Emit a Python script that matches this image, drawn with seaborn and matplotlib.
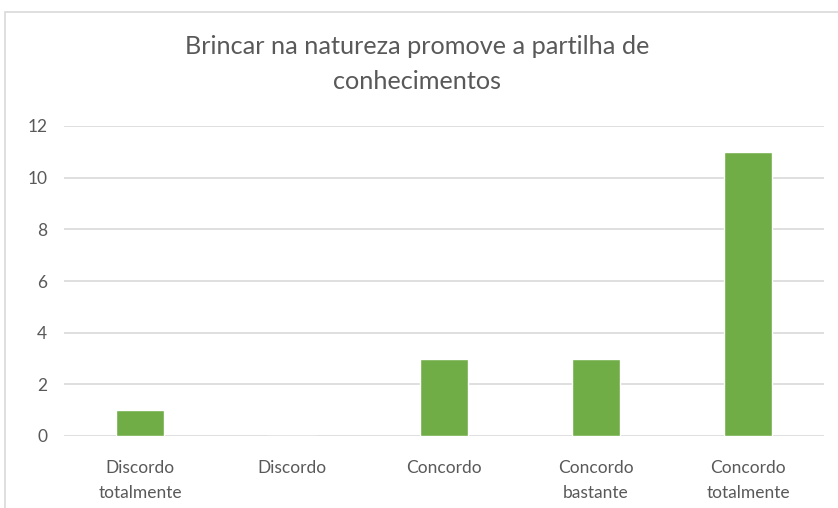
import matplotlib
matplotlib.use("Agg")
import matplotlib.pyplot as plt
import seaborn as sns
import pandas as pd
from matplotlib.patches import Rectangle

categories = ["Discordo\ntotalmente", "Discordo", "Concordo", "Concordo\nbastante", "Concordo\ntotalmente"]
values = [1, 0, 3, 3, 11]
yticks = [0, 2, 4, 6, 8, 10, 12]
title = "Brincar na natureza promove a partilha de\nconhecimentos"

sns.set_theme(style="white")
plt.rcParams['font.family'] = ['Lato', 'DejaVu Sans']

df = pd.DataFrame({"cat": categories, "val": values})

fig = plt.figure(figsize=(8.38, 5.08), dpi=100)
ax = fig.add_axes([64/838, 1 - 436/508, (824-64)/838, (436-126)/508])

sns.barplot(data=df, x="cat", y="val", color="#70AD47", width=0.31,
            saturation=1, ax=ax, zorder=3)

ax.set_ylim(0, 12)
ax.set_yticks(yticks)
ax.set_yticklabels([str(t) for t in yticks])
ax.yaxis.grid(True, color="#d9d9d9", linewidth=1.2, zorder=0)
ax.set_axisbelow(True)
for s in ax.spines.values():
    s.set_visible(False)
ax.set_xlabel("")
ax.set_ylabel("")
ax.tick_params(axis="both", length=0, colors="#595959", labelsize=12.5)
ax.tick_params(axis="y", pad=12)
ax.tick_params(axis="x", pad=17)
for lbl in ax.get_xticklabels():
    lbl.set_linespacing(1.75)

fig.text(417/838, 1 - 64/508, title, ha="center", va="center",
         fontsize=18.2, color="#595959", linespacing=1.6)

fig.patches.append(Rectangle((5/838, -0.1), 1.2, 1 - 12/508 + 0.1,
                             transform=fig.transFigure, fill=False,
                             edgecolor="#d9d9d9", linewidth=1.2))

fig.savefig("out.png", dpi=100, facecolor="white")
